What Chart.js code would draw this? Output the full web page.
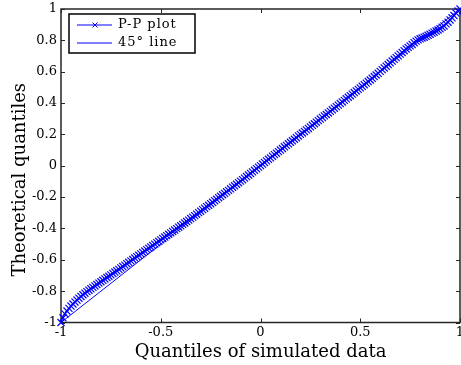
<!DOCTYPE html>
<html>
<head>
<meta charset="utf-8">
<script src="https://cdn.jsdelivr.net/npm/chart.js@4/dist/chart.umd.min.js"></script>
<style>
html, body { margin: 0; padding: 0; background: #fff; }
</style>
</head>
<body>
<canvas id="myChart" width="461" height="365"></canvas>
<script>
// QUANTILES
const simQuantiles = [
	-1, -0.99, -0.98, -0.97, -0.96, -0.95, -0.94, -0.93, -0.92, -0.91,
	-0.9, -0.89, -0.88, -0.87, -0.86, -0.85, -0.84, -0.83, -0.82, -0.81,
	-0.8, -0.79, -0.78, -0.77, -0.76, -0.75, -0.74, -0.73, -0.72, -0.71,
	-0.7, -0.69, -0.68, -0.67, -0.66, -0.65, -0.64, -0.63, -0.62, -0.61,
	-0.6, -0.59, -0.58, -0.57, -0.56, -0.55, -0.54, -0.53, -0.52, -0.51,
	-0.5, -0.49, -0.48, -0.47, -0.46, -0.45, -0.44, -0.43, -0.42, -0.41,
	-0.4, -0.39, -0.38, -0.37, -0.36, -0.35, -0.34, -0.33, -0.32, -0.31,
	-0.3, -0.29, -0.28, -0.27, -0.26, -0.25, -0.24, -0.23, -0.22, -0.21,
	-0.2, -0.19, -0.18, -0.17, -0.16, -0.15, -0.14, -0.13, -0.12, -0.11,
	-0.1, -0.09, -0.08, -0.07, -0.06, -0.05, -0.04, -0.03, -0.02, -0.01,
	0, 0.01, 0.02, 0.03, 0.04, 0.05, 0.06, 0.07, 0.08, 0.09,
	0.1, 0.11, 0.12, 0.13, 0.14, 0.15, 0.16, 0.17, 0.18, 0.19,
	0.2, 0.21, 0.22, 0.23, 0.24, 0.25, 0.26, 0.27, 0.28, 0.29,
	0.3, 0.31, 0.32, 0.33, 0.34, 0.35, 0.36, 0.37, 0.38, 0.39,
	0.4, 0.41, 0.42, 0.43, 0.44, 0.45, 0.46, 0.47, 0.48, 0.49,
	0.5, 0.51, 0.52, 0.53, 0.54, 0.55, 0.56, 0.57, 0.58, 0.59,
	0.6, 0.61, 0.62, 0.63, 0.64, 0.65, 0.66, 0.67, 0.68, 0.69,
	0.7, 0.71, 0.72, 0.73, 0.74, 0.75, 0.76, 0.77, 0.78, 0.79,
	0.8, 0.81, 0.82, 0.83, 0.84, 0.85, 0.86, 0.87, 0.88, 0.89,
	0.9, 0.91, 0.92, 0.93, 0.94, 0.95, 0.96, 0.97, 0.98, 0.99, 1
];
const theoQuantiles = [
	-1, -0.97, -0.945, -0.927, -0.91, -0.895, -0.882, -0.869, -0.857, -0.845,
	-0.834, -0.823, -0.813, -0.803, -0.794, -0.785, -0.776, -0.767, -0.758, -0.749,
	-0.74, -0.731, -0.722, -0.713, -0.705, -0.696, -0.687, -0.678, -0.67, -0.661,
	-0.652, -0.643, -0.634, -0.625, -0.616, -0.607, -0.598, -0.589, -0.58, -0.571,
	-0.562, -0.553, -0.544, -0.535, -0.526, -0.518, -0.509, -0.5, -0.491, -0.482,
	-0.473, -0.464, -0.455, -0.446, -0.437, -0.428, -0.419, -0.41, -0.401, -0.392,
	-0.383, -0.374, -0.365, -0.356, -0.347, -0.337, -0.328, -0.318, -0.309, -0.299,
	-0.29, -0.28, -0.271, -0.261, -0.252, -0.242, -0.233, -0.223, -0.214, -0.204,
	-0.195, -0.185, -0.176, -0.166, -0.157, -0.147, -0.137, -0.128, -0.118, -0.108,
	-0.098, -0.089, -0.079, -0.069, -0.059, -0.049, -0.039, -0.029, -0.019, -0.009,
	0.001, 0.011, 0.021, 0.031, 0.041, 0.05, 0.061, 0.071, 0.08, 0.09,
	0.1, 0.11, 0.121, 0.13, 0.14, 0.15, 0.159, 0.169, 0.179, 0.19,
	0.2, 0.209, 0.219, 0.229, 0.238, 0.248, 0.258, 0.268, 0.278, 0.288,
	0.298, 0.308, 0.318, 0.327, 0.337, 0.347, 0.357, 0.367, 0.377, 0.387,
	0.397, 0.407, 0.417, 0.427, 0.437, 0.447, 0.457, 0.467, 0.477, 0.487,
	0.497, 0.507, 0.517, 0.527, 0.537, 0.547, 0.558, 0.569, 0.579, 0.59,
	0.602, 0.613, 0.624, 0.635, 0.646, 0.657, 0.668, 0.679, 0.69, 0.701,
	0.712, 0.723, 0.734, 0.745, 0.755, 0.765, 0.774, 0.785, 0.795, 0.803,
	0.81, 0.815, 0.82, 0.826, 0.832, 0.839, 0.846, 0.852, 0.86, 0.866,
	0.874, 0.884, 0.892, 0.905, 0.916, 0.93, 0.944, 0.958, 0.974, 0.987, 1
];
// 45 DEGREE REFERENCE LINE
const lineX = [-1, 1];
const lineY = [-1, 1];
// TICKS
const xTicks = [-1, -0.5, 0, 0.5, 1];
const yTicks = [-1, -0.8, -0.6, -0.4, -0.2, 0, 0.2, 0.4, 0.6, 0.8, 1];
const seriesNames = ["P-P plot", "45\u00b0 line"];
const yTitle = "Theoretical quantiles";

const FONT = "'DejaVu Serif', serif";
const BLUE = "#0000ff";

function toPoints(xs, ys) {
	return xs.map((x, i) => ({ x: x, y: ys[i] }));
}

// BOX AROUND THE AXES WITH INWARD TICKS (MATLAB STYLE)
const boxPlugin = {
	id: "box",
	beforeDatasetsDraw(chart) {
		const { ctx, chartArea: a, scales } = chart;
		ctx.save();
		ctx.strokeStyle = "#262626";
		ctx.lineWidth = 1;
		ctx.beginPath();
		scales.x.ticks.forEach((t) => {
			const px = Math.round(scales.x.getPixelForValue(t.value)) + 0.5;
			ctx.moveTo(px, a.bottom); ctx.lineTo(px, a.bottom - 4);
			ctx.moveTo(px, a.top); ctx.lineTo(px, a.top + 4);
		});
		scales.y.ticks.forEach((t) => {
			const py = Math.round(scales.y.getPixelForValue(t.value)) + 0.5;
			ctx.moveTo(a.left, py); ctx.lineTo(a.left + 4, py);
			ctx.moveTo(a.right, py); ctx.lineTo(a.right - 4, py);
		});
		ctx.stroke();
		ctx.lineWidth = 1.5;
		ctx.strokeRect(a.left, a.top, a.right - a.left, a.bottom - a.top);
		// Y AXIS LABEL (SITS A BIT BELOW THE AXIS MIDDLE, LIKE THE LATEX LABEL)
		ctx.translate(20, (a.top + a.bottom) / 2 + 14);
		ctx.rotate(-Math.PI / 2);
		ctx.fillStyle = "#000";
		ctx.font = "18px " + FONT;
		ctx.textAlign = "center";
		ctx.textBaseline = "middle";
		ctx.fillText(yTitle, 0, 0);
		ctx.restore();
	},
};

// LEGEND IN THE TOP LEFT CORNER
const legendPlugin = {
	id: "boxLegend",
	afterDraw(chart) {
		const { ctx, chartArea: a } = chart;
		const x0 = a.left + 8, y0 = a.top + 5, w = 126, h = 39;
		ctx.save();
		ctx.fillStyle = "#fff";
		ctx.fillRect(x0, y0, w, h);
		ctx.strokeStyle = "#000";
		ctx.lineWidth = 1.5;
		ctx.strokeRect(x0, y0, w, h);
		chart.data.datasets.forEach((ds, i) => {
			const y = y0 + 11 + i * 18;
			ctx.strokeStyle = ds.borderColor;
			ctx.lineWidth = 1;
			ctx.beginPath();
			ctx.moveTo(x0 + 8, y);
			ctx.lineTo(x0 + 43, y);
			if (ds.pointStyle === "crossRot") {
				const cx = x0 + 26;
				ctx.moveTo(cx - 2.5, y - 2.5); ctx.lineTo(cx + 2.5, y + 2.5);
				ctx.moveTo(cx - 2.5, y + 2.5); ctx.lineTo(cx + 2.5, y - 2.5);
			}
			ctx.stroke();
			ctx.fillStyle = "#000";
			ctx.font = "13px " + FONT;
			ctx.letterSpacing = "1px";
			ctx.textBaseline = "middle";
			ctx.fillText(ds.label, x0 + 49, y);
		});
		ctx.restore();
	},
};

const ctx = document.getElementById("myChart").getContext("2d");
const myChart = new Chart(ctx, {
	type: "scatter",
	data: {
		datasets: [
			{
				label: seriesNames[0],
				data: toPoints(simQuantiles, theoQuantiles),
				showLine: true,
				borderColor: BLUE,
				backgroundColor: BLUE,
				borderWidth: 1,
				pointStyle: "crossRot",
				pointRadius: 5,
				pointBorderWidth: 1.2,
				clip: false,
			},
			{
				label: seriesNames[1],
				data: toPoints(lineX, lineY),
				showLine: true,
				borderColor: BLUE,
				borderWidth: 1,
				pointRadius: 0,
				clip: false,
			},
		],
	},
	options: {
		responsive: false,
		animation: false,
		devicePixelRatio: 1,
		layout: { autoPadding: false, padding: { top: 9, right: 1, left: 0, bottom: 0 } },
		plugins: { legend: { display: false }, tooltip: { enabled: false } },
		scales: {
			x: {
				type: "linear",
				min: -1,
				max: 1,
				afterBuildTicks: (s) => { s.ticks = xTicks.map((v) => ({ value: v })); },
				afterFit: (s) => { s.height = 42.5; s.paddingLeft = 0; s.paddingRight = 0; },
				grid: { display: false, drawTicks: false },
				border: { display: false },
				ticks: {
					color: "#000",
					font: { family: FONT, size: 13 },
					padding: 2,
					maxRotation: 0,
					callback: (v) => String(v),
				},
				title: {
					display: true,
					text: "Quantiles of simulated data",
					color: "#000",
					font: { family: FONT, size: 18 },
					padding: { top: 0, bottom: 2 },
				},
			},
			y: {
				type: "linear",
				min: -1,
				max: 1,
				afterBuildTicks: (s) => { s.ticks = yTicks.map((v) => ({ value: v })); },
				afterFit: (s) => { s.width = 61; s.paddingTop = 0; s.paddingBottom = 0; },
				grid: { display: false, drawTicks: false },
				border: { display: false },
				ticks: {
					color: "#000",
					font: { family: FONT, size: 13 },
					padding: 4,
					callback: (v) => String(v),
				},
			},
		},
	},
	plugins: [boxPlugin, legendPlugin],
});
</script>
</body>
</html>
